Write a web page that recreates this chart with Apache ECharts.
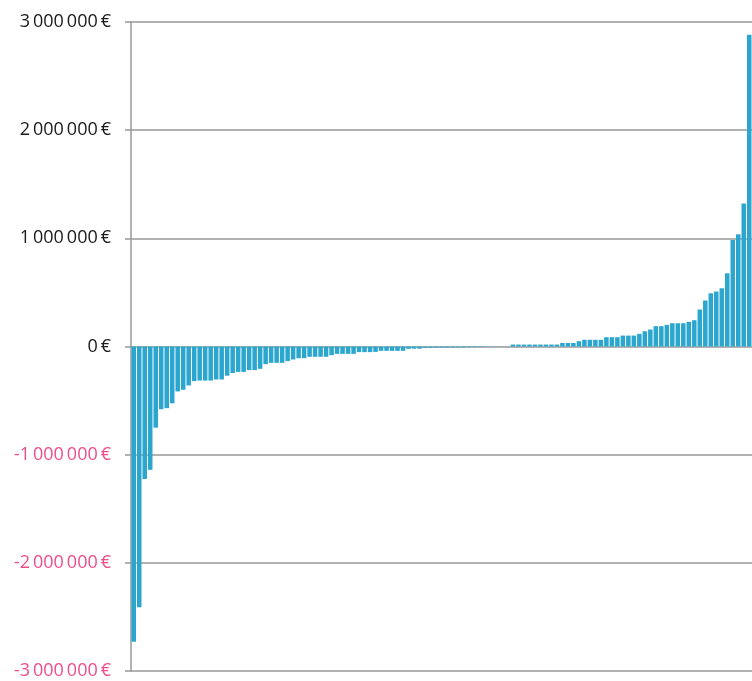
<!DOCTYPE html>
<html>
<head>
<meta charset="utf-8">
<script src="https://cdn.jsdelivr.net/npm/echarts@6/dist/echarts.min.js"></script>
<style>html,body{margin:0;padding:0;background:#fff;}#c{width:752px;height:681px;}</style>
</head>
<body>
<div id="c"></div>
<script>
// Values in euros, sorted ascending
const values = [
  -2730000, -2410000, -1225000, -1140000, -750000, -580000, -570000, -525000, -415000, -400000,
  -360000, -320000, -315000, -315000, -315000, -305000, -305000, -270000, -245000, -235000,
  -235000, -218000, -218000, -206000, -163000, -151000, -151000, -151000, -135000, -120000,
  -108000, -108000, -95000, -95000, -95000, -95000, -80000, -68000, -68000, -68000,
  -68000, -52000, -52000, -52000, -50000, -40000, -40000, -40000, -40000, -40000,
  -22000, -20000, -20000, -12000, -12000, -11000, -10000, -10000, -9000, -8000,
  -8000, -7000, -6000, -5000, -3000, -2000, -1000, 1000, 2000, 18000,
  18000, 18000, 18000, 18000, 18000, 18000, 18000, 18000, 33000, 33000,
  33000, 49000, 62000, 62000, 62000, 62000, 86000, 86000, 86000, 101000,
  101000, 101000, 117000, 141000, 157000, 188000, 188000, 200000, 215000, 215000,
  215000, 228000, 243000, 342000, 425000, 492000, 508000, 538000, 677000, 985000,
  1037000, 1323000, 2883000
];
const categories = values.map((v, i) => String(i + 1));
const yTicks = [-3000000, -2000000, -1000000, 0, 1000000, 2000000, 3000000];

function fmt(v) {
  const s = Math.abs(v).toString().replace(/\B(?=(\d{3})+(?!\d))/g, '\u2009');
  return (v < 0 ? '-' : '') + s + '\u2009€';
}

const chart = echarts.init(document.getElementById('c'), null, {renderer: 'canvas'});
chart.setOption({
  animation: false,
  grid: {left: 131, right: 0, top: 22, bottom: 10, containLabel: false},
  xAxis: {
    type: 'category',
    data: categories,
    axisLine: {show: false},
    axisTick: {show: false},
    axisLabel: {show: false},
    splitLine: {show: false}
  },
  yAxis: {
    type: 'value',
    min: yTicks[0],
    max: yTicks[yTicks.length - 1],
    interval: 1000000,
    axisLine: {show: true, lineStyle: {color: '#999', width: 1.5}},
    axisTick: {show: true, length: 6, lineStyle: {color: '#999', width: 1.5}},
    splitLine: {show: true, lineStyle: {color: '#999', width: 1.5}},
    axisLabel: {
      margin: 20,
      fontFamily: 'Open Sans',
      fontSize: 18,
      formatter: v => fmt(v),
      color: v => (Number(v) < 0 ? '#ee4f8b' : '#1a1a1a')
    }
  },
  series: [{
    type: 'bar',
    data: values,
    barCategoryGap: '18%',
    itemStyle: {color: '#2ba6cf'}
  }]
});
</script>
</body>
</html>
